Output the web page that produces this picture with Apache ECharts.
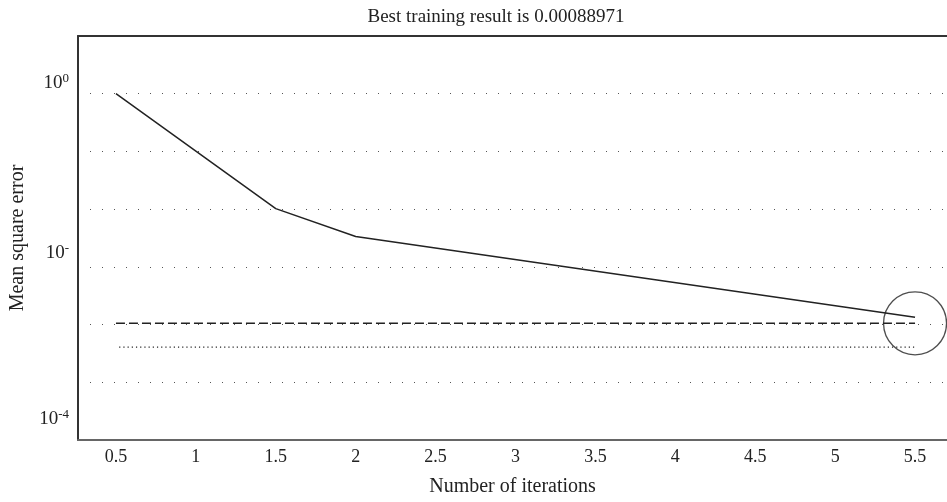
<!DOCTYPE html>
<html>
<head>
<meta charset="utf-8">
<script src="https://cdn.jsdelivr.net/npm/echarts@6/dist/echarts.min.js"></script>
<style>html,body{margin:0;padding:0;background:#fff}#c{width:947px;height:502px}</style>
</head>
<body>
<div id="c"></div>
<script>
// ---- data ----
var iterX = [0.5, 1.5, 2, 5.5];
var mseValues = [1, 0.0471, 0.0224, 0.00261];
var goalValue = 0.00223;      // dashed line
var bestLineValue = 0.00118;  // dotted line
var bestPoint = [5.5, 0.00223];
var xTickLabels = [0.5, 1, 1.5, 2, 2.5, 3, 3.5, 4, 4.5, 5, 5.5];
var yTickValues = [1, 1e-2, 1e-4];
var yTickExponents = ['0', '-', '-4'];
var titleText = 'Best training result is 0.00088971';

// axis units: each grid step is 2/3 of a decade, bottom = 1e-4
function u(v) { return (Math.log10(v) + 4) * 1.5; }

var serif = 'Liberation Serif';
var chart = echarts.init(document.getElementById('c'), null, {renderer: 'canvas'});
var yCustom = yTickValues.map(u);
var spacer = [22, 28, 42];

chart.setOption({
  animation: false,
  backgroundColor: '#fff',
  title: {
    text: titleText, left: 491, top: 3, textAlign: 'center',
    textStyle: {fontFamily: serif, fontSize: 19, fontWeight: 'normal', color: '#222'}
  },
  grid: {left: 77, right: 0, top: 36, bottom: 61},
  xAxis: [{
    type: 'value', min: 0.2625, max: 5.7, position: 'bottom',
    axisLine: {lineStyle: {color: '#666', width: 2}},
    axisTick: {show: false}, splitLine: {show: false},
    axisLabel: {
      customValues: xTickLabels, margin: 8,
      fontFamily: serif, fontSize: 18, color: '#222',
      formatter: function (v) { return String(+v.toFixed(2)); }
    },
    name: 'Number of iterations', nameLocation: 'middle', nameGap: 37,
    nameTextStyle: {fontFamily: serif, fontSize: 20, color: '#222'}
  }, {
    type: 'value', min: 0.2625, max: 5.7, position: 'top',
    axisLine: {lineStyle: {color: '#333', width: 2}},
    axisTick: {show: false}, splitLine: {show: false}, axisLabel: {show: false}
  }],
  yAxis: {
    type: 'value', min: 0, max: 7, interval: 1,
    axisLine: {show: true, lineStyle: {color: '#333', width: 2}},
    axisTick: {show: false},
    splitLine: {show: true, lineStyle: {color: '#555', width: 1, type: [1, 11]}},
    axisLabel: {
      customValues: yCustom, margin: 9, align: 'right',
      formatter: function (v) {
        var i = yCustom.findIndex(function (c) { return Math.abs(c - v) < 1e-6; });
        if (i < 0) return '';
        return '{b|10}{e|' + yTickExponents[i] + '}\n{s' + i + '| }';
      },
      rich: {
        b: {fontFamily: serif, fontSize: 19, color: '#222', lineHeight: 22},
        e: {fontFamily: serif, fontSize: 13, color: '#222', lineHeight: 13, verticalAlign: 'top', padding: [0, 0, 7, 0]},
        s0: {fontSize: 1, lineHeight: spacer[0]},
        s1: {fontSize: 1, lineHeight: spacer[1]},
        s2: {fontSize: 1, lineHeight: spacer[2]}
      }
    },
    name: 'Mean square error', nameLocation: 'middle', nameGap: 50, nameRotate: 90,
    nameTextStyle: {fontFamily: serif, fontSize: 20, color: '#222'}
  },
  series: [{
    type: 'line', name: 'train', symbol: 'none', silent: true,
    data: iterX.map(function (x, i) { return [x, u(mseValues[i])]; }),
    lineStyle: {color: '#222', width: 1.5}
  }, {
    type: 'line', name: 'goal', symbol: 'none', silent: true,
    data: [[iterX[0], u(goalValue)], [iterX[iterX.length - 1], u(goalValue)]],
    lineStyle: {color: '#222', width: 1.4, type: [9, 4]}
  }, {
    type: 'line', name: 'best', symbol: 'none', silent: true,
    data: [[iterX[0] + 0.02, u(bestLineValue)], [iterX[iterX.length - 1], u(bestLineValue)]],
    lineStyle: {color: '#222', width: 1.2, type: [1.2, 3]}
  }, {
    type: 'scatter', name: 'mark', silent: true,
    data: [[bestPoint[0], u(bestPoint[1])]],
    symbol: 'circle', symbolSize: 63,
    itemStyle: {color: 'rgba(0,0,0,0)', borderColor: '#222', borderWidth: 1.3}
  }]
});
</script>
</body>
</html>
